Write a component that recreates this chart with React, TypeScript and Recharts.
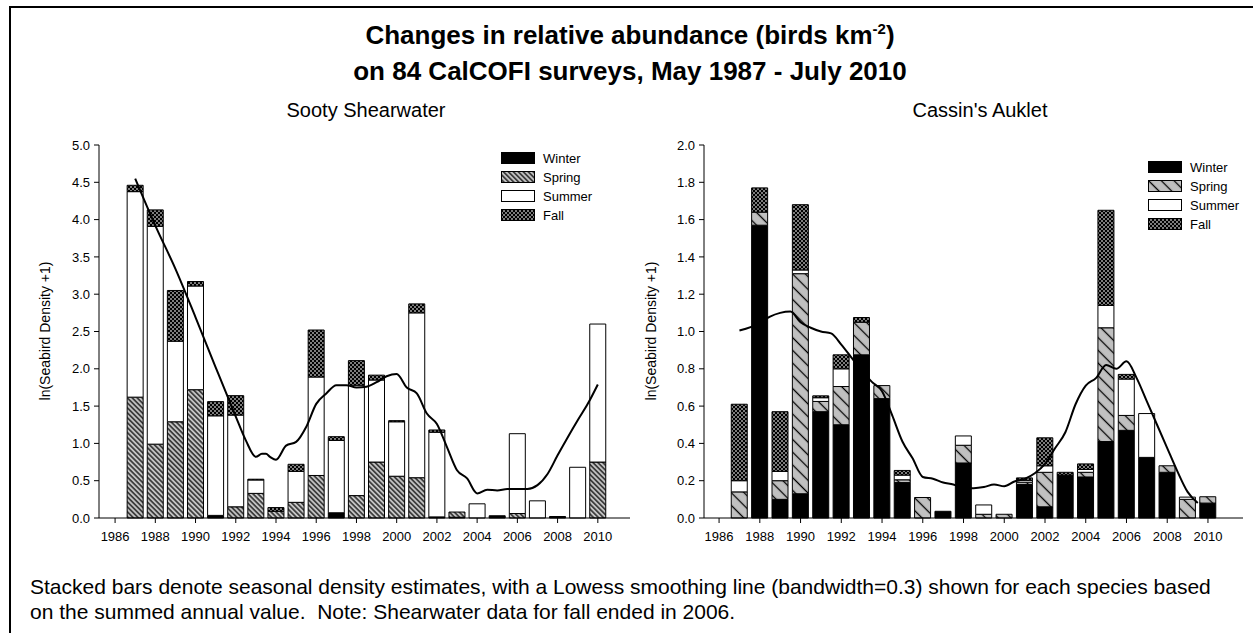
import React from 'react';
import { BarChart, Bar, LineChart, Line, XAxis, YAxis } from 'recharts';

// survey years with bars
const years = [
  1987, 1988, 1989, 1990, 1991, 1992, 1993, 1994, 1995, 1996, 1997, 1998,
  1999, 2000, 2001, 2002, 2003, 2004, 2005, 2006, 2007, 2008, 2009, 2010,
];
const xTicks = [1986, 1988, 1990, 1992, 1994, 1996, 1998, 2000, 2002, 2004, 2006, 2008, 2010];

// Sooty Shearwater, seasonal segments (stacked)
const sootyWinter = [0, 0, 0, 0, 0.035, 0, 0, 0, 0, 0, 0.07, 0, 0, 0, 0, 0.015, 0.01, 0, 0.03, 0, 0, 0.02, 0, 0];
const sootySpring = [1.62, 0.99, 1.29, 1.72, 0, 0.15, 0.33, 0.09, 0.21, 0.57, 0, 0.3, 0.75, 0.56, 0.54, 0, 0.07, 0, 0, 0.06, 0, 0, 0, 0.75];
const sootySummer = [2.755, 2.92, 1.08, 1.39, 1.335, 1.23, 0.18, 0, 0.415, 1.32, 0.97, 1.48, 1.1, 0.73, 2.21, 1.135, 0, 0.19, 0, 1.07, 0.23, 0, 0.68, 1.85];
const sootyFall = [0.085, 0.22, 0.68, 0.06, 0.19, 0.26, 0.01, 0.05, 0.095, 0.63, 0.05, 0.33, 0.065, 0.015, 0.12, 0.03, 0, 0, 0, 0, 0, 0, 0, 0];

// Sooty Shearwater lowess line
const sootyLowessYear = [
  1987, 1988, 1989, 1990, 1991, 1992, 1992.5, 1993, 1993.3, 1993.5, 1993.7, 1994, 1994.5, 1995, 1995.5,
  1996, 1996.5, 1997, 1997.5, 1998, 1998.5, 1999, 1999.5, 2000, 2000.5, 2001, 2001.5, 2002, 2002.5,
  2003, 2003.5, 2004, 2004.5, 2005, 2005.5, 2006, 2006.5, 2007, 2007.5, 2008, 2008.5, 2009, 2009.5, 2010,
];
const sootyLowess = [
  4.55, 3.92, 3.34, 2.69, 2.02, 1.36, 1.04, 0.82, 0.86, 0.86, 0.82, 0.78, 0.97, 1.02, 1.22,
  1.53, 1.67, 1.78, 1.78, 1.75, 1.76, 1.82, 1.9, 1.93, 1.75, 1.67, 1.4, 1.26, 0.95,
  0.64, 0.53, 0.33, 0.38, 0.37, 0.39, 0.39, 0.39, 0.44, 0.59, 0.84, 1.08, 1.31, 1.53, 1.79,
];

// Cassin's Auklet, seasonal segments (stacked)
const cassinWinter = [0, 1.57, 0.1, 0.13, 0.57, 0.5, 0.875, 0.64, 0.19, 0, 0.036, 0.295, 0, 0, 0.18, 0.06, 0.23, 0.22, 0.41, 0.47, 0.325, 0.245, 0, 0.08];
const cassinSpring = [0.14, 0.07, 0.1, 1.18, 0.055, 0.205, 0.175, 0.07, 0.015, 0.11, 0, 0.095, 0.02, 0.02, 0.012, 0.185, 0, 0.025, 0.61, 0.08, 0, 0.035, 0.1, 0.034];
const cassinSummer = [0.06, 0, 0.05, 0.02, 0.02, 0.095, 0, 0, 0.025, 0, 0, 0.05, 0.05, 0, 0.01, 0.035, 0, 0.015, 0.12, 0.195, 0.235, 0, 0.012, 0];
const cassinFall = [0.41, 0.13, 0.32, 0.35, 0.01, 0.075, 0.025, 0, 0.025, 0, 0, 0, 0, 0, 0.013, 0.15, 0.015, 0.03, 0.51, 0.025, 0, 0, 0, 0];

// Cassin's Auklet lowess line
const cassinLowessYear = [
  1987, 1988, 1988.5, 1989, 1989.5, 1990, 1990.5, 1991, 1991.5, 1992, 1992.5, 1993, 1993.5, 1994, 1994.5,
  1995, 1995.5, 1996, 1996.5, 1997, 1997.5, 1998, 1998.5, 1999, 1999.5, 2000, 2000.5, 2001, 2001.5,
  2002, 2002.5, 2003, 2003.5, 2004, 2004.5, 2005, 2005.5, 2006, 2006.5, 2007, 2007.5, 2008, 2008.5, 2009, 2009.5,
];
const cassinLowess = [
  1.005, 1.045, 1.08, 1.1, 1.107, 1.05, 1.02, 1.0, 0.99, 0.93, 0.86, 0.79, 0.73, 0.68, 0.55,
  0.41, 0.32, 0.22, 0.21, 0.19, 0.18, 0.16, 0.16, 0.166, 0.18, 0.17, 0.196, 0.21, 0.24,
  0.29, 0.375, 0.46, 0.61, 0.71, 0.75, 0.82, 0.8, 0.84, 0.75, 0.625, 0.5, 0.375, 0.25, 0.14, 0.08,
];

const sootyTicks = [0, 0.5, 1, 1.5, 2, 2.5, 3, 3.5, 4, 4.5, 5];
const cassinTicks = [0, 0.2, 0.4, 0.6, 0.8, 1, 1.2, 1.4, 1.6, 1.8, 2];
const seasons = ['Winter', 'Spring', 'Summer', 'Fall'];

const FONT = '"Liberation Sans", Arial, Helvetica, sans-serif';

const toRows = (w: number[], sp: number[], su: number[], f: number[]) =>
  years.map((year, i) => ({ year, winter: w[i], spring: sp[i], summer: su[i], fall: f[i] }));
const toLine = (xs: number[], ys: number[]) => xs.map((year, i) => ({ year, lowess: ys[i] }));

const Patterns = () => (
  <svg width={0} height={0} style={{ position: 'absolute' }}>
    <defs>
      <pattern id="sootySpring" patternUnits="userSpaceOnUse" width={3.5} height={3.5} patternTransform="rotate(-45)">
        <rect width={3.5} height={3.5} fill="#c4c4c4" />
        <line x1={1.75} y1={0} x2={1.75} y2={3.5} stroke="#000" strokeWidth={1.2} />
      </pattern>
      <pattern id="cassinSpring" patternUnits="userSpaceOnUse" width={9} height={9} patternTransform="rotate(-45)">
        <rect width={9} height={9} fill="#c0c0c0" />
        <line x1={4.5} y1={0} x2={4.5} y2={9} stroke="#000" strokeWidth={1.3} />
      </pattern>
      <pattern id="fallHatch" patternUnits="userSpaceOnUse" width={4} height={4}>
        <rect width={4} height={4} fill="#000" />
        <rect x={0.3} y={0.3} width={1.4} height={1.4} fill="#fff" />
        <rect x={2.3} y={2.3} width={1.4} height={1.4} fill="#fff" />
      </pattern>
    </defs>
  </svg>
);

interface PanelProps {
  left: number;
  width: number;
  domain: [number, number];
  yMax: number;
  yTicks: number[];
  rows: ReturnType<typeof toRows>;
  line: ReturnType<typeof toLine>;
  springFill: string;
}

const Panel: React.FC<PanelProps> = ({ left, width, domain, yMax, yTicks, rows, line, springFill }) => {
  const height = 440;
  const tick = { fill: '#000', fontSize: 13, fontFamily: FONT };
  return (
    <div style={{ position: 'absolute', left, top: 120, width, height }}>
      <BarChart width={width} height={height} data={rows} margin={{ top: 25, right: 10, left: 0, bottom: 12 }}>
        <XAxis
          type="number"
          dataKey="year"
          domain={domain}
          ticks={xTicks}
          allowDataOverflow
          height={30}
          tickSize={5}
          tickMargin={9}
          tick={tick}
          stroke="#000"
          interval={0}
        />
        <YAxis
          type="number"
          domain={[0, yMax]}
          ticks={yTicks}
          width={59}
          tickSize={5}
          tickMargin={4}
          tick={tick}
          stroke="#000"
          interval={0}
          tickFormatter={(v: number) => v.toFixed(1)}
        />
        <Bar dataKey="winter" stackId="s" fill="#000" stroke="#000" strokeWidth={1} barSize={16} isAnimationActive={false} />
        <Bar dataKey="spring" stackId="s" fill={springFill} stroke="#000" strokeWidth={1} barSize={16} isAnimationActive={false} />
        <Bar dataKey="summer" stackId="s" fill="#fff" stroke="#000" strokeWidth={1} barSize={16} isAnimationActive={false} />
        <Bar dataKey="fall" stackId="s" fill="url(#fallHatch)" stroke="#000" strokeWidth={1} barSize={16} isAnimationActive={false} />
      </BarChart>
      <div style={{ position: 'absolute', left: 0, top: 0 }}>
        <LineChart width={width} height={height} data={line} margin={{ top: 25, right: 10, left: 59, bottom: 42 }}>
          <XAxis type="number" dataKey="year" domain={domain} allowDataOverflow hide />
          <YAxis type="number" domain={[0, yMax]} hide />
          <Line type="monotone" dataKey="lowess" stroke="#000" strokeWidth={2} dot={false} isAnimationActive={false} />
        </LineChart>
      </div>
    </div>
  );
};

const Legend: React.FC<{ x: number; y: number; springFill: string }> = ({ x, y, springFill }) => {
  const fills = ['#000', springFill, '#fff', 'url(#fallHatch)'];
  return (
    <svg style={{ position: 'absolute', left: x, top: y }} width={110} height={80}>
      {seasons.map((s, i) => (
        <g key={s}>
          <rect x={0.5} y={i * 19 + 0.5} width={33} height={11} fill={fills[i]} stroke="#000" strokeWidth={1} />
          <text x={42} y={i * 19 + 6} dominantBaseline="central" fontSize={13} fontFamily={FONT} fill="#000">
            {s}
          </text>
        </g>
      ))}
    </svg>
  );
};

const YLabel: React.FC<{ cx: number; cy: number }> = ({ cx, cy }) => (
  <div
    style={{
      position: 'absolute', left: cx - 150, top: cy - 8, width: 300, height: 16, lineHeight: '16px',
      textAlign: 'center', fontSize: 14, fontFamily: FONT, transform: 'rotate(-90deg)',
    }}
  >
    ln(Seabird Density +1)
  </div>
);

export default function App() {
  const sootyRows = toRows(sootyWinter, sootySpring, sootySummer, sootyFall);
  const cassinRows = toRows(cassinWinter, cassinSpring, cassinSummer, cassinFall);
  return (
    <div style={{ position: 'absolute', left: 0, top: 0, width: 1253, height: 633, overflow: 'hidden', background: '#fff', fontFamily: FONT, color: '#000' }}>
      <Patterns />
      <div style={{ position: 'absolute', left: 9, top: 6, width: 1400, height: 800, borderTop: '2px solid #000', borderLeft: '2px solid #000' }} />

      <div style={{ position: 'absolute', left: 0, top: 19, width: 1260, textAlign: 'center', fontSize: 26, fontWeight: 'bold', lineHeight: '32px' }}>
        <div>
          Changes in relative abundance (birds km
          <span style={{ fontSize: 15, position: 'relative', top: -10 }}>-2</span>)
        </div>
        <div>on 84 CalCOFI surveys, May 1987 - July 2010</div>
      </div>

      <div style={{ position: 'absolute', left: 166, top: 98, width: 400, textAlign: 'center', fontSize: 20, lineHeight: '24px' }}>
        Sooty Shearwater
      </div>
      <div style={{ position: 'absolute', left: 780, top: 98, width: 400, textAlign: 'center', fontSize: 20, lineHeight: '24px' }}>
        Cassin's Auklet
      </div>

      <YLabel cx={45} cy={331} />
      <YLabel cx={651} cy={331} />

      <Panel
        left={40}
        width={600}
        domain={[1985.2, 2011.6]}
        yMax={5}
        yTicks={sootyTicks}
        rows={sootyRows}
        line={toLine(sootyLowessYear, sootyLowess)}
        springFill="url(#sootySpring)"
      />
      <Panel
        left={645}
        width={608}
        domain={[1985.26, 2011.72]}
        yMax={2}
        yTicks={cassinTicks}
        rows={cassinRows}
        line={toLine(cassinLowessYear, cassinLowess)}
        springFill="url(#cassinSpring)"
      />

      <Legend x={501} y={152} springFill="url(#sootySpring)" />
      <Legend x={1148} y={161} springFill="url(#cassinSpring)" />

      <div style={{ position: 'absolute', left: 30, top: 574, fontSize: 21, lineHeight: '25px', whiteSpace: 'pre' }}>
        {'Stacked bars denote seasonal density estimates, with a Lowess smoothing line (bandwidth=0.3) shown for each species based\non the summed annual value.  Note: Shearwater data for fall ended in 2006.'}
      </div>
    </div>
  );
}
